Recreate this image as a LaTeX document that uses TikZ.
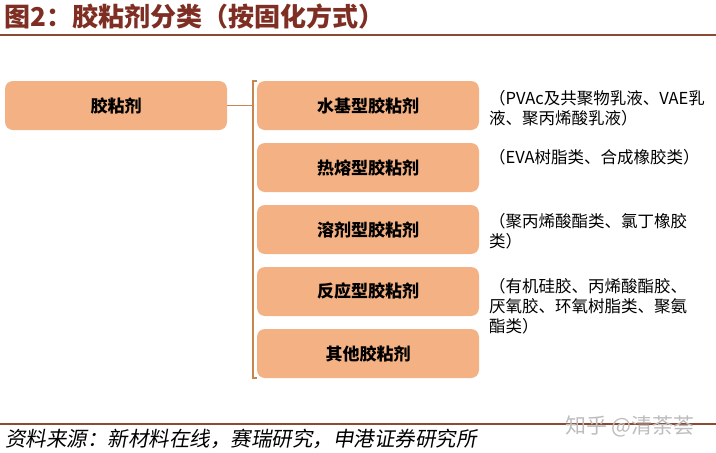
\documentclass[tikz,border=0pt]{standalone}
\usepackage{fontspec}
\setmainfont{Noto Sans CJK SC}
\newfontfamily\srcfont{Noto Sans CJK SC}[FakeSlant=0.18]
\definecolor{titlered}{HTML}{7E2E22}
\definecolor{rulered}{HTML}{8C4A34}
\definecolor{boxfill}{HTML}{F4B183}
\definecolor{brk}{HTML}{C8864F}
\definecolor{wm}{HTML}{BDBDBD}
\begin{document}
\begin{tikzpicture}[x=1pt,y=-1pt,
  cat/.style={draw=none,fill=boxfill,rounded corners=8pt,minimum width=222pt,minimum height=49pt,inner sep=0pt,
    font=\bfseries\fontsize{17}{17}\selectfont,text=black},
  desc/.style={anchor=north west,inner sep=0pt,align=left,font=\fontsize{16.5}{20}\selectfont,text=black},
  brkline/.style={draw=brk,line width=1.5pt}]
\useasboundingbox (0,0) rectangle (716,453);
\fill[white] (0,0) rectangle (716,453);
% title
\node[anchor=west,inner sep=0pt,text=titlered,font=\bfseries\fontsize{26}{26}\selectfont] (title) at (4,17) {图2：胶粘剂分类（按固化方式）};
\draw[rulered,line width=2pt] (0,35) -- (716,35);
% main
\node[cat] (main) at (116,105.5) {胶粘剂};
\node[cat] (c1) at (368,105.5) {水基型胶粘剂};
\node[cat] (c2) at (368,167.5) {热熔型胶粘剂};
\node[cat] (c3) at (368,229.5) {溶剂型胶粘剂};
\node[cat] (c4) at (368,291.5) {反应型胶粘剂};
\node[cat] (c5) at (368,353.5) {其他胶粘剂};
% bracket
\coordinate (bt) at (253,81);
\coordinate (bb) at (253,378);
\coordinate (bm) at (253,105.5);
\draw[brkline] ([xshift=4pt]bt) -- (bt) -- (bb) -- ([xshift=4pt]bb);
\draw[brkline] (main.east) -- (bm);
% descriptions
\node[desc] (d1) at (489,90) {（PVAc及共聚物乳液、VAE乳\\液、聚丙烯酸乳液）};
\node[desc] (d2) at (489,149) {（EVA树脂类、合成橡胶类）};
\node[desc] (d3) at (489,213) {（聚丙烯酸酯类、氯丁橡胶\\类）};
\node[desc] (d4) at (489,278) {（有机硅胶、丙烯酸酯胶、\\厌氧胶、环氧树脂类、聚氨\\酯类）};
% footer
\draw[rulered,line width=2pt] (0,424) -- (716,424);
\node[anchor=west,inner sep=0pt,text=wm,font=\fontsize{21}{21}\selectfont] (wmk) at (565,426) {知乎 @清荼荟};
\node[anchor=west,inner sep=0pt,text=black,font=\srcfont\fontsize{20.5}{20.5}\selectfont] (src) at (5,439) {资料来源：新材料在线，赛瑞研究，申港证券研究所};
\end{tikzpicture}
\end{document}
